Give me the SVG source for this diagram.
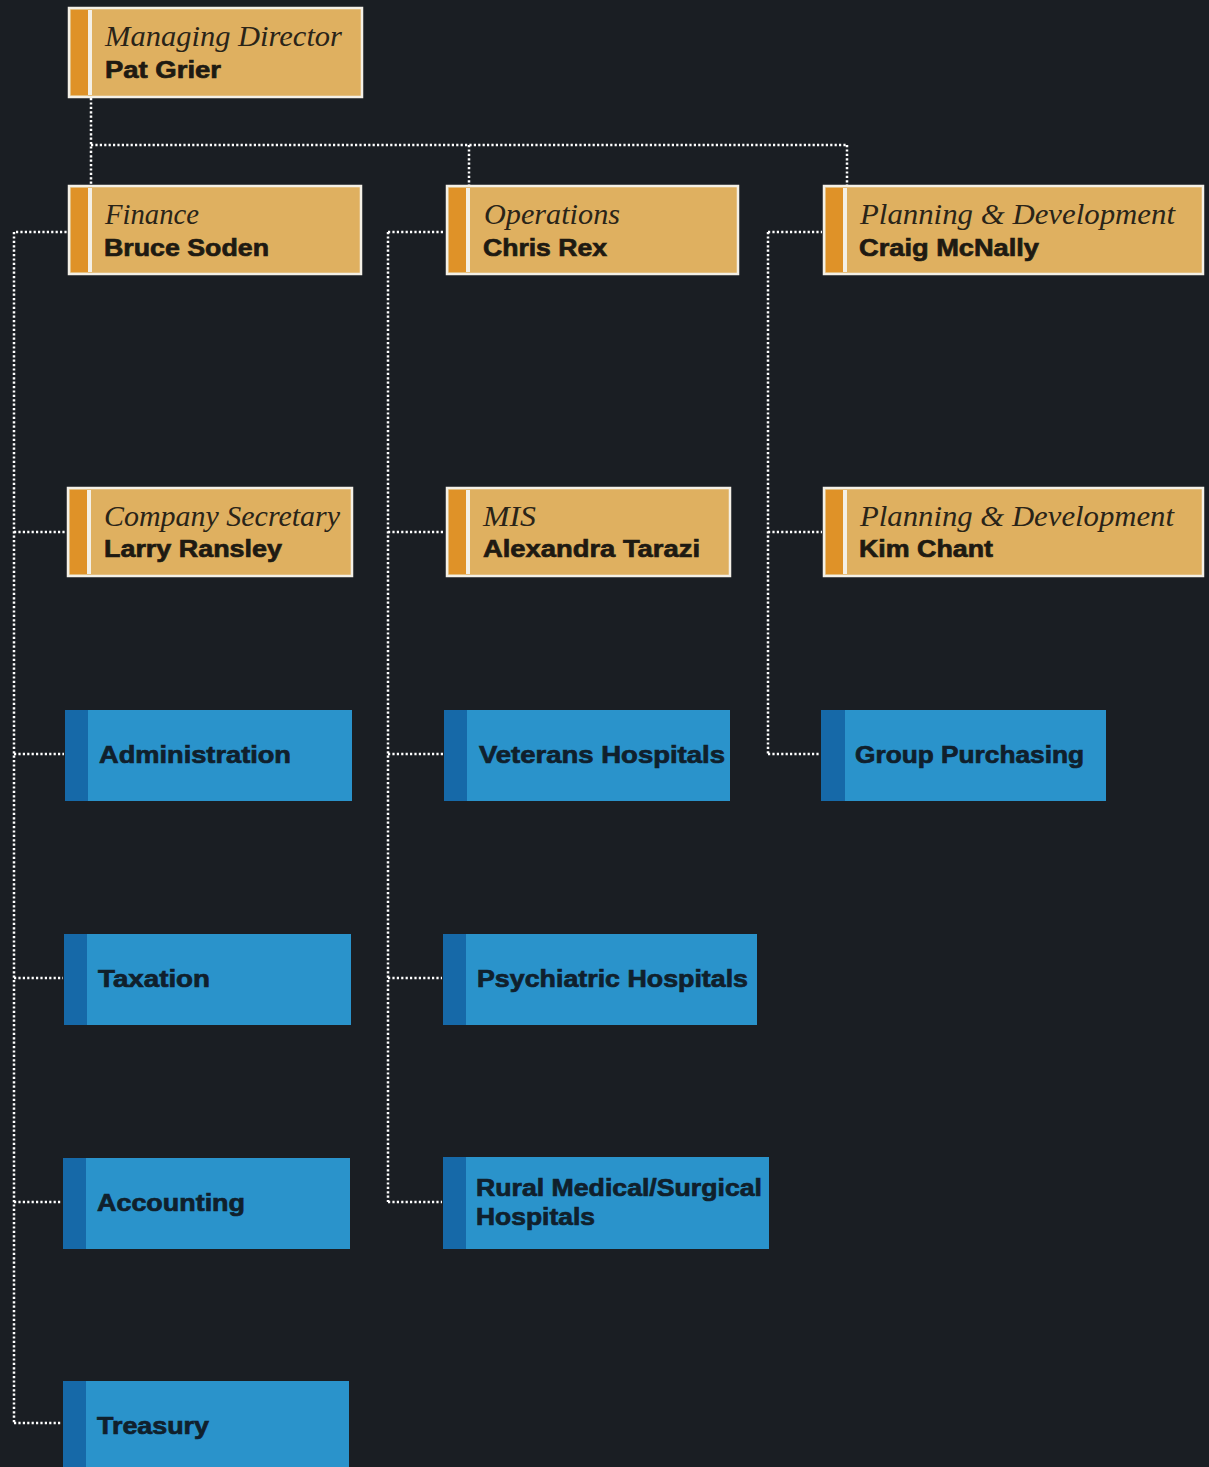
<svg xmlns="http://www.w3.org/2000/svg" width="1209" height="1467" viewBox="0 0 1209 1467">
<style>
.bg{fill:#1a1e23}
.tan{fill:#dfb060;stroke:#f4f0e6;stroke-width:2.5}
.ostrip{fill:#df9228}
.div{fill:#f4f0e6}
.blue{fill:#2a93cb}
.bstrip{fill:#1669a8}
.title{font-family:"Liberation Serif",serif;font-style:italic;font-size:29px;fill:#2a2418}
.name{font-family:"Liberation Sans",Arial,sans-serif;font-weight:bold;font-size:24px;fill:#1e1a12;stroke:#1e1a12;stroke-width:0.7}
.bname{font-family:"Liberation Sans",Arial,sans-serif;font-weight:bold;font-size:24px;fill:#10202c;stroke:#10202c;stroke-width:0.7}
.dot{fill:none;stroke:#ffffff;stroke-width:2.5;stroke-dasharray:2.2 2.2}
</style>
<rect class="bg" x="0" y="0" width="1209" height="1467"/>

<g id="connectors">
<path class="dot" d="M91 98 V185 M91 145 H847 M469 145 V185 M847 145 V185"/>
<path class="dot" d="M14 232 V1423 M16 232 H67 M14 532 H66 M14 754 H64 M14 978 H63 M14 1202 H62 M14 1423 H62"/>
<path class="dot" d="M388 232 V1202 M388 232 H445 M388 532 H445 M388 754 H443 M388 978 H442 M388 1202 H442"/>
<path class="dot" d="M768 232 V754 M768 232 H822 M768 532 H822 M768 754 H820"/>
</g>

<g id="managing-director">
<rect class="tan" x="69" y="8" width="293" height="89"/>
<rect class="ostrip" x="71" y="10" width="17" height="85"/>
<rect class="div" x="88" y="10" width="4" height="85"/>
<text class="title" x="105" y="46" textLength="237" lengthAdjust="spacingAndGlyphs">Managing Director</text>
<text class="name" x="105" y="78" textLength="116" lengthAdjust="spacingAndGlyphs">Pat Grier</text>
</g>

<g id="finance">
<rect class="tan" x="69" y="186" width="292" height="88"/>
<rect class="ostrip" x="71" y="188" width="17" height="84"/>
<rect class="div" x="88" y="188" width="4" height="84"/>
<text class="title" x="105" y="224" textLength="94" lengthAdjust="spacingAndGlyphs">Finance</text>
<text class="name" x="104" y="256" textLength="165" lengthAdjust="spacingAndGlyphs">Bruce Soden</text>
</g>

<g id="operations">
<rect class="tan" x="447" y="186" width="291" height="88"/>
<rect class="ostrip" x="449" y="188" width="17" height="84"/>
<rect class="div" x="466" y="188" width="4" height="84"/>
<text class="title" x="484" y="224" textLength="136" lengthAdjust="spacingAndGlyphs">Operations</text>
<text class="name" x="483" y="256" textLength="124" lengthAdjust="spacingAndGlyphs">Chris Rex</text>
</g>

<g id="planning-craig">
<rect class="tan" x="824" y="186" width="379" height="88"/>
<rect class="ostrip" x="826" y="188" width="17" height="84"/>
<rect class="div" x="843" y="188" width="4" height="84"/>
<text class="title" x="860" y="224" textLength="315" lengthAdjust="spacingAndGlyphs">Planning &amp; Development</text>
<text class="name" x="859" y="256" textLength="180" lengthAdjust="spacingAndGlyphs">Craig McNally</text>
</g>

<g id="company-secretary">
<rect class="tan" x="68" y="488" width="284" height="88"/>
<rect class="ostrip" x="70" y="490" width="17" height="84"/>
<rect class="div" x="87" y="490" width="4" height="84"/>
<text class="title" x="104" y="526" textLength="236" lengthAdjust="spacingAndGlyphs">Company Secretary</text>
<text class="name" x="104" y="557" textLength="178" lengthAdjust="spacingAndGlyphs">Larry Ransley</text>
</g>

<g id="mis">
<rect class="tan" x="447" y="488" width="283" height="88"/>
<rect class="ostrip" x="449" y="490" width="17" height="84"/>
<rect class="div" x="466" y="490" width="4" height="84"/>
<text class="title" x="483" y="526" textLength="53" lengthAdjust="spacingAndGlyphs">MIS</text>
<text class="name" x="483" y="557" textLength="217" lengthAdjust="spacingAndGlyphs">Alexandra Tarazi</text>
</g>

<g id="planning-kim">
<rect class="tan" x="824" y="488" width="379" height="88"/>
<rect class="ostrip" x="826" y="490" width="17" height="84"/>
<rect class="div" x="843" y="490" width="4" height="84"/>
<text class="title" x="860" y="526" textLength="314" lengthAdjust="spacingAndGlyphs">Planning &amp; Development</text>
<text class="name" x="859" y="557" textLength="134" lengthAdjust="spacingAndGlyphs">Kim Chant</text>
</g>

<g id="administration">
<rect class="blue" x="65" y="710" width="287" height="91"/>
<rect class="bstrip" x="65" y="710" width="23" height="91"/>
<text class="bname" x="99" y="763" textLength="192" lengthAdjust="spacingAndGlyphs">Administration</text>
</g>

<g id="veterans-hospitals">
<rect class="blue" x="444" y="710" width="286" height="91"/>
<rect class="bstrip" x="444" y="710" width="23" height="91"/>
<text class="bname" x="479" y="763" textLength="246" lengthAdjust="spacingAndGlyphs">Veterans Hospitals</text>
</g>

<g id="group-purchasing">
<rect class="blue" x="821" y="710" width="285" height="91"/>
<rect class="bstrip" x="821" y="710" width="24" height="91"/>
<text class="bname" x="855" y="763" textLength="229" lengthAdjust="spacingAndGlyphs">Group Purchasing</text>
</g>

<g id="taxation">
<rect class="blue" x="64" y="934" width="287" height="91"/>
<rect class="bstrip" x="64" y="934" width="23" height="91"/>
<text class="bname" x="98" y="987" textLength="112" lengthAdjust="spacingAndGlyphs">Taxation</text>
</g>

<g id="psychiatric-hospitals">
<rect class="blue" x="443" y="934" width="314" height="91"/>
<rect class="bstrip" x="443" y="934" width="23" height="91"/>
<text class="bname" x="477" y="987" textLength="271" lengthAdjust="spacingAndGlyphs">Psychiatric Hospitals</text>
</g>

<g id="accounting">
<rect class="blue" x="63" y="1158" width="287" height="91"/>
<rect class="bstrip" x="63" y="1158" width="23" height="91"/>
<text class="bname" x="97" y="1211" textLength="148" lengthAdjust="spacingAndGlyphs">Accounting</text>
</g>

<g id="rural-hospitals">
<rect class="blue" x="443" y="1157" width="326" height="92"/>
<rect class="bstrip" x="443" y="1157" width="23" height="92"/>
<text class="bname" x="476" y="1196" textLength="286" lengthAdjust="spacingAndGlyphs">Rural Medical/Surgical</text>
<text class="bname" x="476" y="1225" textLength="119" lengthAdjust="spacingAndGlyphs">Hospitals</text>
</g>

<g id="treasury">
<rect class="blue" x="63" y="1381" width="286" height="90"/>
<rect class="bstrip" x="63" y="1381" width="23" height="90"/>
<text class="bname" x="97" y="1434" textLength="112" lengthAdjust="spacingAndGlyphs">Treasury</text>
</g>
</svg>
